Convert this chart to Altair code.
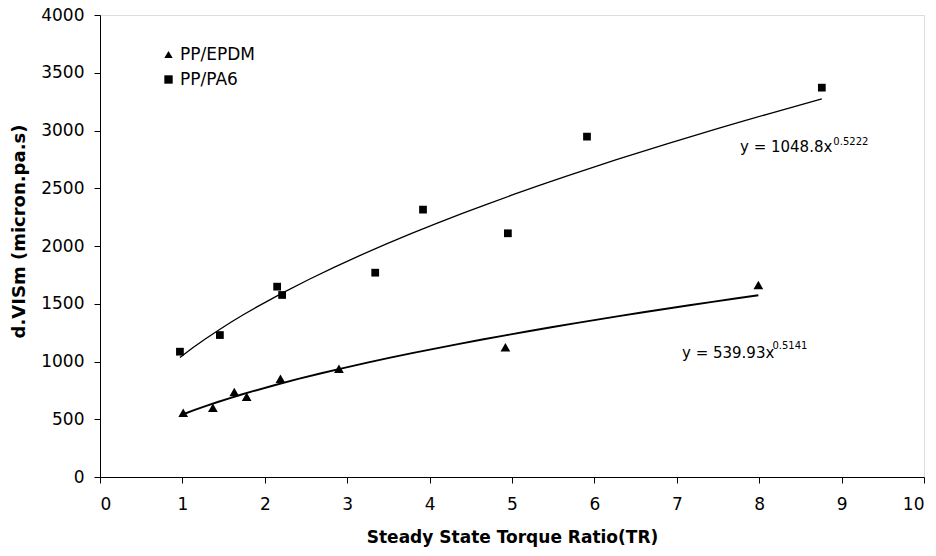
import altair as alt
import pandas as pd

# ---- data ----
epdm_x = [1.01, 1.37, 1.63, 1.78, 2.19, 2.90, 4.92, 7.99]
epdm_y = [557, 600, 736, 695, 851, 938, 1123, 1662]
pa6_x = [0.97, 1.455, 2.15, 2.21, 3.34, 3.92, 4.95, 5.91, 8.76]
pa6_y = [1085, 1229, 1648, 1576, 1769, 2315, 2110, 2947, 3371]
series_names = ["PP/EPDM", "PP/PA6"]
eq_main = ["y = 1048.8x", "y = 539.93x"]
eq_sup = ["0.5222", "0.5141"]
x_ticks = list(range(0, 11))
y_ticks = list(range(0, 4001, 500))

df = pd.DataFrame({
    "x": epdm_x + pa6_x,
    "y": epdm_y + pa6_y,
    "series": [series_names[0]] * len(epdm_x) + [series_names[1]] * len(pa6_x),
})

FONT = "DejaVu Sans"

xenc = alt.X("x:Q", scale=alt.Scale(domain=[0, 10], nice=False),
             axis=alt.Axis(values=x_ticks, format="d", title="Steady State Torque Ratio(TR)",
                           grid=False, labelFontSize=17, titleFontSize=17, titleFontWeight="bold",
                           labelPadding=13, tickSize=6, titlePadding=17,
                           domainColor="black", tickColor="black", labelColor="black",
                           titleColor="black", labelFont=FONT, titleFont=FONT))
yenc = alt.Y("y:Q", scale=alt.Scale(domain=[0, 4000], nice=False),
             axis=alt.Axis(values=y_ticks, format="d", title="d.VISm (micron.pa.s)", grid=False,
                           labelFontSize=17, titleFontSize=18, titleFontWeight="bold",
                           labelPadding=10, tickSize=6, titleX=-72, titleY=216,
                           domainColor="black", tickColor="black", labelColor="black",
                           titleColor="black", labelFont=FONT, titleFont=FONT))

base = alt.Chart(df)

points = base.mark_point(filled=True, opacity=1, color="black").encode(
    x=xenc, y=yenc,
    shape=alt.Shape("series:N",
                    scale=alt.Scale(domain=series_names, range=["triangle-up", "square"]),
                    legend=alt.Legend(title=None, orient="none", legendX=60, legendY=31,
                                      labelFontSize=17, labelFont=FONT, labelColor="black",
                                      symbolFillColor="black", symbolStrokeColor="black",
                                      symbolSize=70, rowPadding=7, padding=0,
                                      labelOffset=3)),
    size=alt.condition(alt.datum.series == "PP/EPDM", alt.value(95), alt.value(60)),
)

fits = base.transform_regression("x", "y", method="pow", groupby=["series"]).mark_line(
    color="black"
).encode(
    x="x:Q", y="y:Q", detail="series:N",
    strokeWidth=alt.condition(alt.datum.series == "PP/EPDM", alt.value(1.9), alt.value(1.3)),
)

def txt(s, xv, yv, size):
    return alt.Chart().mark_text(align="left", baseline="alphabetic", fontSize=size,
                                 font=FONT, color="black").encode(
        x=alt.datum(xv), y=alt.datum(yv), text=alt.value(s))

ann = (txt(eq_main[0], 7.767, 2814, 15) + txt(eq_sup[0], 8.90, 2874, 10)
       + txt(eq_main[1], 7.063, 1030, 15) + txt(eq_sup[1], 8.16, 1108, 10))

chart = alt.layer(fits, points, ann).properties(
    width=824, height=462,
    autosize=alt.AutoSizeParams(type="none"),
    padding={"left": 100, "top": 15, "right": 12, "bottom": 79},
).configure_view(stroke="black", strokeWidth=1).configure(background="white")

chart.save("out.html", embed_options={"renderer": "svg", "actions": False})
